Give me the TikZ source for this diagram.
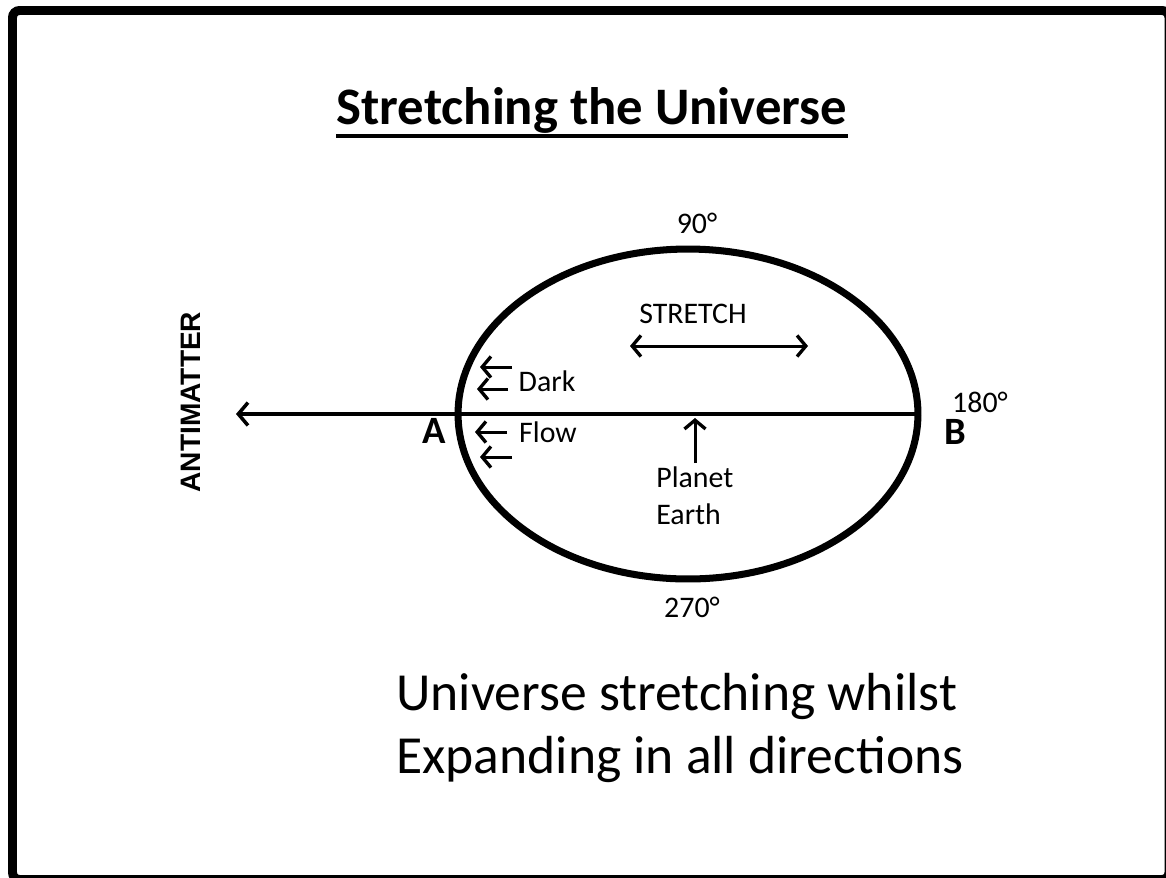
\documentclass[tikz,border=0pt]{standalone}
\usepackage{fontspec}
\setmainfont{Carlito}
\newfontfamily\arialfont{Liberation Sans}
\usetikzlibrary{arrows.meta, positioning, shapes.geometric}

\begin{document}
\begin{tikzpicture}[x=0.02cm, y=-0.02cm,
    small/.style={font=\fontsize{17}{21}\selectfont, inner sep=0pt},
    endpoint/.style={font=\bfseries\fontsize{22}{24}\selectfont, inner sep=0pt},
    barb/.tip={Straight Barb[length=5pt,width=12pt,line width=1.9pt,sharp]},
    flowarrow/.style={-barb, line width=1.7pt},
    bigtext/.style={font=\fontsize{30.5}{36}\selectfont, inner sep=0pt, anchor=base west}]
    \useasboundingbox (0,0) rectangle (1166,877);
    \clip (0,0) rectangle (1166,877);

    % frame of the slide
    \draw[line width=5.1pt, rounded corners=4pt] (12.5,10.5) rectangle (1169,879.5);

    % title, underlined
    \node[font=\bfseries\fontsize{30}{34}\selectfont, inner sep=0pt, anchor=base] (title) at (592,124) {Stretching the Universe};
    \draw[line width=2.3pt] ([yshift=-7pt]title.base west) -- ([yshift=-7pt]title.base east);

    % the universe
    \node[draw, ellipse, line width=4pt, inner sep=0pt, minimum width=9.2cm, minimum height=6.6cm] (universe) at (688,414) {};

    % line through A and B, out to the antimatter side
    \coordinate (antiend) at (236,414);
    \draw[-{Straight Barb[length=5.5pt,width=13pt,line width=2pt,sharp]}, line width=2pt] (universe.east) -- (antiend);
    \node[font=\arialfont\bfseries\fontsize{16}{18}\selectfont, rotate=90, inner sep=0pt] (anti) at (191,402) {ANTIMATTER};

    % end points and angles
    \node[endpoint] (A) at (434,431) {A};
    \node[endpoint] (B) at (955,432) {B};
    \node[small] (deg90) at (697,223) {90°};
    \node[small] (deg180) at (980,402) {180°};
    \node[small] (deg270) at (692,607) {270°};

    % stretch arrow
    \node[small] (stretch) at (693,314) {STRETCH};
    \coordinate (stretchL) at (630,346);
    \coordinate (stretchR) at (808,346);
    \draw[barb-barb, line width=1.7pt] (stretchL) -- (stretchR);

    % dark flow arrows at A
    \foreach \y/\xs/\xe [count=\i] in {367/512/480, 389/508/477, 432/507/475, 457/512/480} {
        \coordinate (flow\i s) at (\xs,\y);
        \coordinate (flow\i e) at (\xe,\y);
        \draw[flowarrow] (flow\i s) -- (flow\i e);
    }
    \node[small] (dark) at (547,381) {Dark};
    \node[small] (flow) at (548,432) {Flow};

    % planet earth
    \node[small, align=left, anchor=north west] (earth) at (656,466) {Planet\\Earth};
    \coordinate (earthtip) at (695,418);
    \draw[flowarrow] (earthtip |- earth.north) ++(0,-3) -- (earthtip);

    % caption
    \node[bigtext] (cap1) at (396,710) {Universe stretching whilst};
    \node[bigtext] (cap2) at (396,773) {Expanding in all directions};
\end{tikzpicture}
\end{document}
